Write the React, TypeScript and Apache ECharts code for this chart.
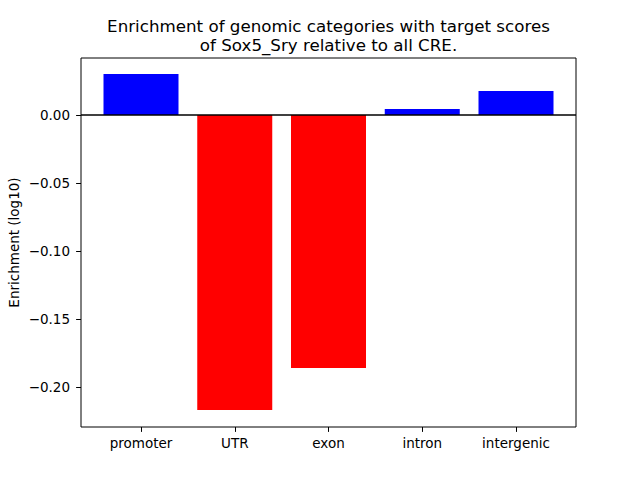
import React, { useEffect, useRef } from "react";
import * as echarts from "echarts";

const categories = ["promoter", "UTR", "exon", "intron", "intergenic"];
const values = [0.0301, -0.2169, -0.186, 0.0044, 0.0176];
const yTicks = [-0.2, -0.15, -0.1, -0.05, 0];
const titleLines = [
  "Enrichment of genomic categories with target scores",
  "of Sox5_Sry relative to all CRE.",
];
const yName = "Enrichment (log10)";

const FONT = "DejaVu Sans";

export default function App() {
  const ref = useRef<HTMLDivElement>(null);
  useEffect(() => {
    if (!ref.current) return;
    document.body.style.margin = "0";
    const chart = echarts.init(ref.current, null, { renderer: "svg" });
    const option: any = {
      animation: false,
      backgroundColor: "#ffffff",
      grid: {
        left: 81,
        top: 58,
        right: 64,
        bottom: 53,
        show: true,
        borderColor: "#000",
        borderWidth: 1,
        backgroundColor: "transparent",
      },
      xAxis: {
        type: "value",
        min: -0.64,
        max: 4.64,
        splitLine: { show: false },
        axisLine: { show: false, onZero: false },
        axisTick: {
          show: true,
          inside: false,
          length: 4.9,
          lineStyle: { color: "#000", width: 1 },
          customValues: categories.map((_, i) => i),
        },
        axisLabel: {
          customValues: categories.map((_, i) => i),
          formatter: (v: number) => categories[Math.round(v)] ?? "",
          fontFamily: FONT,
          fontSize: 13.5,
          color: "#000",
          margin: 9,
        },
      },
      yAxis: {
        type: "value",
        min: -0.2294,
        max: 0.0419,
        splitLine: { show: false },
        axisLine: { show: false, onZero: false },
        axisTick: {
          show: true,
          inside: false,
          length: 4.9,
          lineStyle: { color: "#000", width: 1 },
          customValues: yTicks,
        },
        axisLabel: {
          customValues: yTicks,
          formatter: (v: number) =>
            (v < -1e-9 ? "\u2212" : "") + Math.abs(v).toFixed(2),
          fontFamily: FONT,
          fontSize: 13.5,
          color: "#000",
          margin: 11,
        },
      },
      graphic: [
        ...titleLines.map((t, i) => ({
          type: "text",
          x: 328.5,
          y: 26 + i * 18.5,
          style: {
            text: t,
            fontFamily: FONT,
            fontSize: 16.7,
            fill: "#000",
            textAlign: "center",
            textVerticalAlign: "middle",
          },
        })),
        {
          type: "text",
          x: 14,
          y: 242.5,
          rotation: Math.PI / 2,
          style: {
            text: yName,
            fontFamily: FONT,
            fontSize: 13.5,
            fill: "#000",
            textAlign: "center",
            textVerticalAlign: "middle",
          },
        },
      ],
      series: [
        {
          type: "bar",
          barWidth: 75,
          data: values.map((v, i) => ({
            value: [i, v],
            itemStyle: { color: v >= 0 ? "#0000ff" : "#ff0000" },
          })),
          markLine: {
            silent: true,
            symbol: "none",
            label: { show: false },
            lineStyle: { color: "#000", width: 1.6, type: "solid" },
            data: [{ yAxis: 0 }],
          },
        },
      ],
    };
    chart.setOption(option);
    return () => chart.dispose();
  }, []);
  return <div ref={ref} style={{ width: 640, height: 480 }} />;
}
